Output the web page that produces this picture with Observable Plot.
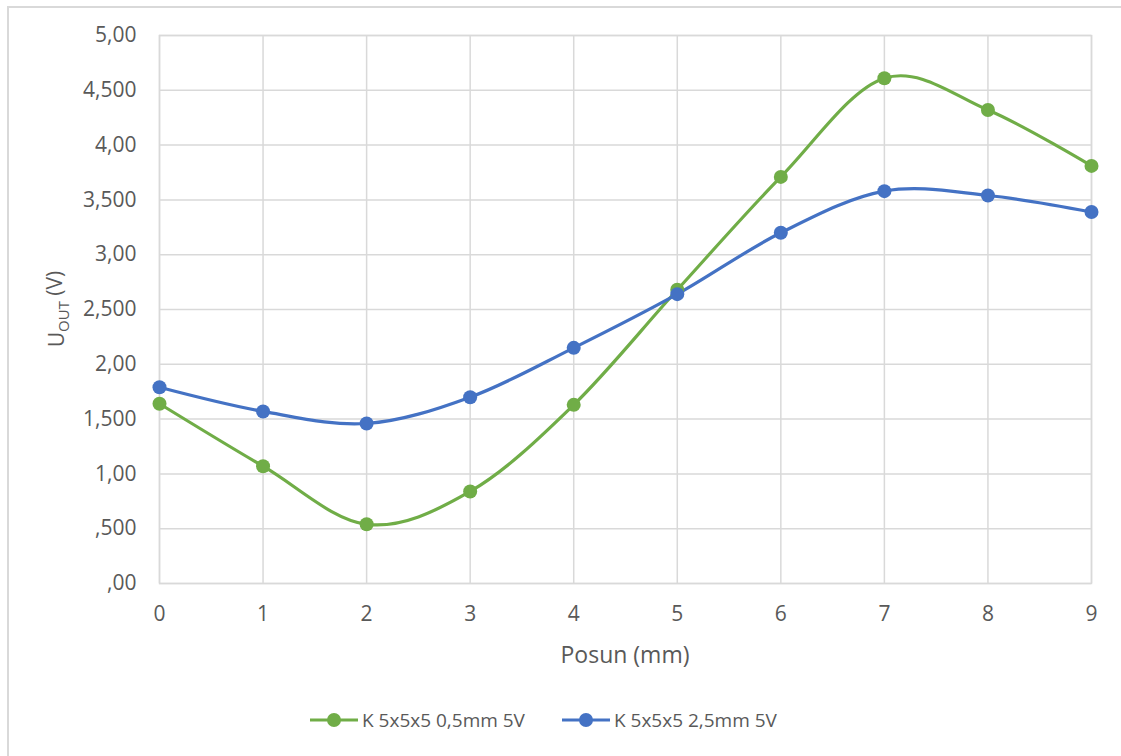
<!DOCTYPE html>
<html>
<head>
<meta charset="utf-8">
<script src="https://cdn.jsdelivr.net/npm/d3@7"></script>
<script src="https://cdn.jsdelivr.net/npm/@observablehq/plot@0.6"></script>
<style>
  html, body { margin: 0; padding: 0; background: #fff; }
  body { width: 1121px; height: 756px; position: relative; overflow: hidden; font-family: "Open Sans", Lato, sans-serif; }
  #border { position: absolute; left: 7px; top: 6px; width: 1130px; height: 770px; border: 2px solid #d9d9d9; box-sizing: border-box; }
  #chart { position: absolute; left: 0; top: 0; }
  #legend { position: absolute; left: 310px; top: 707px; display: flex; align-items: center; font-size: 19px; color: #595959; white-space: nowrap; }
  #legend .item { display: flex; align-items: center; }
  #legend svg { display: block; margin-right: 4px; }
</style>
</head>
<body>
<div id="border"></div>
<div id="chart"></div>
<div id="legend"></div>
<script>
// Displacement (mm) on the x axis
const posun = [0, 1, 2, 3, 4, 5, 6, 7, 8, 9];
// Output voltage for the two samples (V)
const k05 = [1.64, 1.07, 0.54, 0.84, 1.63, 2.68, 3.71, 4.61, 4.32, 3.81];
const k25 = [1.79, 1.57, 1.46, 1.70, 2.15, 2.64, 3.20, 3.58, 3.54, 3.39];
// Series names and colours
const seriesNames = ["K 5x5x5 0,5mm 5V", "K 5x5x5 2,5mm 5V"];
const seriesColors = ["#70ad47", "#4472c4"];
// Y tick values and their labels as printed on the axis
const yTicks = [0, 0.5, 1, 1.5, 2, 2.5, 3, 3.5, 4, 4.5, 5];
const yTickLabels = [",00", ",500", "1,00", "1,500", "2,00", "2,500", "3,00", "3,500", "4,00", "4,500", "5,00"];

const rows = [
  ...posun.map((x, i) => ({x, y: k05[i], s: seriesNames[0]})),
  ...posun.map((x, i) => ({x, y: k25[i], s: seriesNames[1]}))
];

const grid = "#d9d9d9";
const textColor = "#595959";

const chart = Plot.plot({
  width: 1121,
  height: 690,
  marginLeft: 159,
  marginRight: 30,
  marginTop: 35,
  marginBottom: 107,
  style: { fontFamily: "'Open Sans', Lato, sans-serif", fontSize: "21px", color: textColor, background: "transparent", overflow: "visible" },
  x: { domain: [0, 9] },
  y: { domain: [0, 5] },
  color: { domain: seriesNames, range: seriesColors },
  marks: [
    Plot.gridX(posun, { stroke: grid, strokeOpacity: 1, strokeWidth: 1.5 }),
    Plot.gridY(yTicks, { stroke: grid, strokeOpacity: 1, strokeWidth: 1.5 }),
    Plot.frame({ stroke: grid, strokeWidth: 1.5 }),
    Plot.axisX({ ticks: posun, tickSize: 0, tickPadding: 23, fontSize: 21, tickFormat: d => String(d), label: null, fill: textColor }),
    Plot.axisY({ ticks: yTicks, tickSize: 0, tickPadding: 23, fontSize: 21, tickFormat: (d, i) => yTickLabels[i], label: null, fill: textColor }),
    Plot.line(rows, { x: "x", y: "y", z: "s", stroke: "s", strokeWidth: 3.2, curve: "catmull-rom", tension: 0 }),
    Plot.dot(rows, { x: "x", y: "y", fill: "s", r: 7, stroke: null })
  ]
});
document.getElementById("chart").appendChild(chart);

// Axis titles
const svg = d3.select(chart);
svg.append("text")
  .attr("x", 625).attr("y", 663)
  .attr("text-anchor", "middle")
  .attr("fill", textColor).style("font-size", "23px")
  .text("Posun (mm)");
const yl = svg.append("text")
  .attr("transform", "translate(64,309) rotate(-90)")
  .attr("text-anchor", "middle")
  .attr("fill", textColor).style("font-size", "21px");
yl.append("tspan").text("U");
yl.append("tspan").attr("dy", "0.3em").style("font-size", "15px").text("OUT");
yl.append("tspan").attr("dy", "-0.3em").text(" (V)");

// Legend below the chart
const legend = d3.select("#legend");
seriesNames.forEach((name, i) => {
  const item = legend.append("div").attr("class", "item").style("margin-right", i === 0 ? "37px" : "0");
  const sw = item.append("svg").attr("width", 48).attr("height", 16);
  sw.append("line").attr("x1", 0).attr("x2", 48).attr("y1", 8).attr("y2", 8)
    .attr("stroke", seriesColors[i]).attr("stroke-width", 3.2);
  sw.append("circle").attr("cx", 24).attr("cy", 8).attr("r", 7).attr("fill", seriesColors[i]);
  item.append("span").text(name);
});
</script>
</body>
</html>
